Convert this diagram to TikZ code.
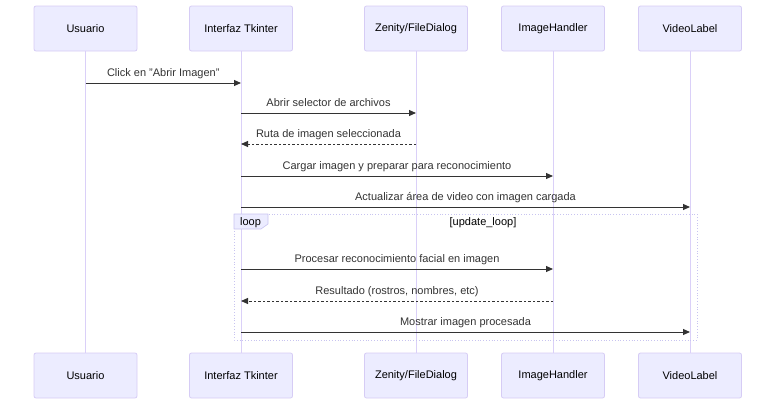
\documentclass[tikz,border=0pt]{standalone}
\usepackage{fontspec}
\setmainfont{Liberation Sans}
\usetikzlibrary{arrows.meta, positioning}
\usepackage{xcolor}
\definecolor{actorfill}{RGB}{236,236,255}
\definecolor{actorline}{RGB}{214,204,245}
\definecolor{lifecolor}{RGB}{218,208,248}
\definecolor{msgcolor}{RGB}{51,51,51}
\definecolor{loopline}{RGB}{200,196,240}
\tikzset{actorbox/.style={rectangle, rounded corners=2pt, fill=actorfill, draw=actorline, line width=0.8pt, minimum width=103pt, minimum height=45pt, inner sep=0pt, text=black, font=\fontsize{11}{13}\selectfont},
lifeline/.style={draw=lifecolor, line width=1pt},
msgline/.style={draw=msgcolor, line width=1pt, -{Triangle[length=7pt, width=6pt]}},
replyline/.style={msgline, dash pattern=on 2.5pt off 2pt},
msglabel/.style={text=msgcolor, font=\fontsize{11}{13}\selectfont, yshift=9.5pt, inner sep=0pt}}

\begin{document}
\begin{tikzpicture}[x=1pt, y=-1pt, line join=bevel]
        \useasboundingbox (0, 0) rectangle (784, 410);
        % Participants
        \foreach \name/\x/\text in {
            usuario/85.5/Usuario,
            interfaz/241/Interfaz Tkinter,
            zenity/416/{Zenity/FileDialog},
            handler/553/ImageHandler,
            video/690/VideoLabel} {
            \node[actorbox] (\name-top) at (\x, 28.5) {\text};
            \node[actorbox] (\name-bot) at (\x, 375.5) {\text};
            \draw[lifeline] (\name-top.south) -- (\name-bot.north);
        }
        % Loop frame
        \draw[loopline, line width=0.8pt, dotted] (234, 214) rectangle (697, 340);
        \draw[fill=actorfill, draw=loopline, line width=0.6pt] (234, 214) -- (268, 214) -- (268, 224) -- (261, 229) -- (234, 229) -- cycle;
        \node[text=black, font=\fontsize{11}{13}\selectfont] (looptag) at (250.5, 222.5) {loop\strut};
        \node[text=black, font=\fontsize{11}{13}\selectfont] (loopcond) at (483, 223) {[update\_loop]\strut};
        % Messages
        \foreach \from/\to/\y/\kind/\text in {
            usuario/interfaz/83/msgline/{Click en "Abrir Imagen"},
            interfaz/zenity/113/msgline/{Abrir selector de archivos},
            zenity/interfaz/144/replyline/{Ruta de imagen seleccionada},
            interfaz/handler/176/msgline/{Cargar imagen y preparar para reconocimiento},
            interfaz/video/207/msgline/{Actualizar área de video con imagen cargada},
            interfaz/handler/269/msgline/{Procesar reconocimiento facial en imagen},
            handler/interfaz/301/replyline/{Resultado (rostros, nombres, etc)},
            interfaz/video/332/msgline/{Mostrar imagen procesada}} {
            \draw[\kind] (\from-top |- 0, \y) -- (\to-top |- 0, \y) node[midway, msglabel] {\text\strut};
        }
    \end{tikzpicture}
\end{document}
